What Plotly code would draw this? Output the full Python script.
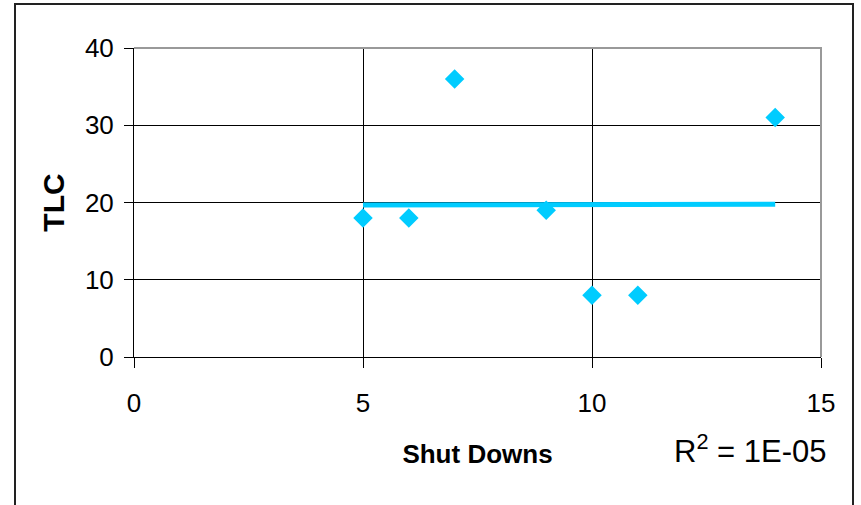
import numpy as np
import plotly.graph_objects as go

shut_downs = [5, 6, 7, 9, 10, 11, 14]
tlc = [18, 18, 36, 19, 8, 8, 31]
x_ticks = [0, 5, 10, 15]
y_ticks = [0, 10, 20, 30, 40]
r2_label = "R<sup>2</sup> = 1E-05"

COLOR = "#00CCFF"
FONT = "Liberation Sans, Arial, sans-serif"

slope, intercept = np.polyfit(shut_downs, tlc, 1)
tx = [min(shut_downs), max(shut_downs)]
ty = [slope * v + intercept for v in tx]

fig = go.Figure()
fig.add_trace(go.Scatter(x=tx, y=ty, mode="lines",
                         line=dict(color=COLOR, width=5), showlegend=False,
                         hoverinfo="skip"))
fig.add_trace(go.Scatter(x=shut_downs, y=tlc, mode="markers",
                         marker=dict(symbol="diamond", size=15, color=COLOR,
                                     line=dict(width=0)),
                         showlegend=False))

W, H = 861, 505
# target plot area in page pixels (body margin removed via post_script)
PL, PT, PR, PB = 134, 48, 821, 357
L, T = PL, PT
R = W - PR
B = H - PB
pw, ph = W - L - R, H - T - B

def px(xp):
    return (xp - L) / pw

def py(yp):
    return (H - B - yp) / ph

fig.update_layout(
    width=W, height=H,
    margin=dict(l=L, r=R, t=T, b=B, pad=0, autoexpand=False),
    paper_bgcolor="white", plot_bgcolor="white",
    font=dict(family=FONT, color="black", size=26),
    xaxis=dict(range=[0, 15], tickvals=x_ticks, showgrid=True,
               gridcolor="black", gridwidth=1, zeroline=False,
               showline=True, linecolor="black", linewidth=1,
               ticks="outside", ticklen=10, tickcolor="black", tickwidth=1,
               tickfont=dict(size=26), ticklabelstandoff=13, automargin=False,
               title=dict(text="<b>Shut Downs</b>", font=dict(size=26),
                          standoff=27)),
    yaxis=dict(range=[0, 40], tickvals=y_ticks, showgrid=True,
               gridcolor="black", gridwidth=1, zeroline=False,
               showline=True, linecolor="black", linewidth=1,
               ticks="outside", ticklen=9, tickcolor="black", tickwidth=1,
               tickfont=dict(size=26), ticklabelstandoff=5, automargin=False,
               title=dict(text="<b>TLC</b>", font=dict(size=30),
                          standoff=11)),
)

# gray top/right frame of plot area
fig.add_shape(type="path", xref="paper", yref="paper",
              path="M 0,1 L 1,1 L 1,0", line=dict(color="#999999", width=2),
              layer="above")
# outer chart border
fig.add_shape(type="rect", xref="paper", yref="paper",
              x0=px(15), x1=px(853), y0=py(520), y1=py(4),
              line=dict(color="#222222", width=2))

fig.add_annotation(text=r2_label, xref="paper", yref="paper",
                   x=px(829), y=py(471), xanchor="right", yanchor="bottom",
                   showarrow=False, font=dict(size=31, family=FONT))

fig.write_html("out.html", config={"displayModeBar": False},
               post_script="document.body.style.margin='0';")
